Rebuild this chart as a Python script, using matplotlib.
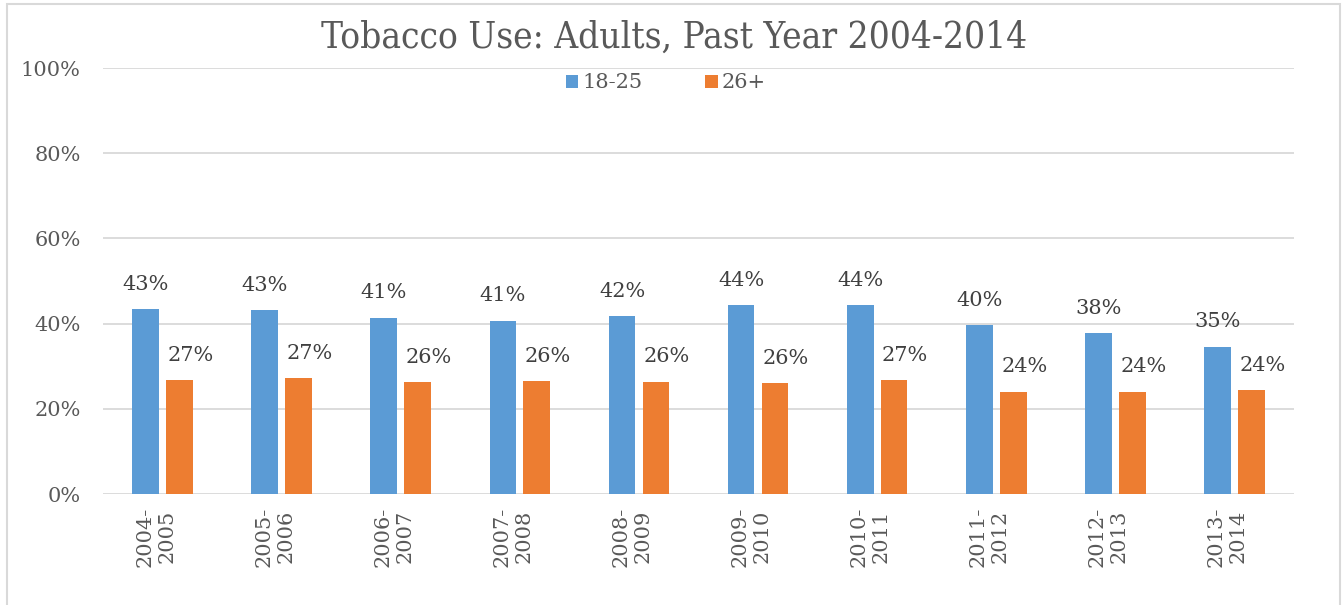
import matplotlib
matplotlib.use("Agg")
import matplotlib.pyplot as plt
import matplotlib.transforms as mtransforms
from matplotlib.patches import Rectangle
import numpy as np

periods = ["2004-\n2005", "2005-\n2006", "2006-\n2007", "2007-\n2008", "2008-\n2009",
           "2009-\n2010", "2010-\n2011", "2011-\n2012", "2012-\n2013", "2013-\n2014"]
age_18_25 = [43.4, 43.1, 41.4, 40.7, 41.7, 44.3, 44.3, 39.6, 37.8, 34.6]
age_26_plus = [26.8, 27.2, 26.3, 26.5, 26.4, 26.0, 26.7, 24.0, 24.0, 24.4]
series_names = ["18-25", "26+"]
yticks = [0, 20, 40, 60, 80, 100]

BLUE = "#5B9BD5"
ORANGE = "#ED7D31"
TEXT = "#595959"
LABEL = "#404040"
GRID = "#D9D9D9"
SERIF = "DejaVu Serif"
FS = 15

fig = plt.figure(figsize=(13.44, 6.05), dpi=100)
ax = fig.add_axes([103 / 1344, 1 - 494 / 605, 1191 / 1344, 426 / 605])

x = np.arange(len(periods))
w = 0.224
off = 0.142
b1 = ax.bar(x - off, age_18_25, w, color=BLUE, label=series_names[0], zorder=3)
b2 = ax.bar(x + off, age_26_plus, w, color=ORANGE, label=series_names[1], zorder=3)

for rect, v in zip(b1, age_18_25):
    ax.annotate(f"{round(v):d}%", (rect.get_x() + rect.get_width() / 2, v),
                xytext=(0, 11), textcoords="offset points", ha="center", va="bottom",
                fontsize=FS, family=SERIF, color=LABEL)
for rect, v in zip(b2, age_26_plus):
    ax.annotate(f"{round(v):d}%", (rect.get_x() + rect.get_width() / 2, v),
                xytext=(8, 11), textcoords="offset points", ha="center", va="bottom",
                fontsize=FS, family=SERIF, color=LABEL)

ax.set_xlim(-0.5, len(periods) - 0.5)
ax.set_ylim(0, 100)
ax.set_yticks(yticks)
ax.set_yticklabels([f"{t}%" for t in yticks], family=SERIF, fontsize=FS, color=TEXT)
ax.set_xticks(x)
ax.set_xticklabels(periods, rotation=90, family=SERIF, fontsize=FS, color=TEXT,
                   ha="center", va="top", linespacing=1.2)
ax.tick_params(axis="y", length=0, pad=16)
ax.tick_params(axis="x", length=0, pad=9)
shift = mtransforms.ScaledTranslation(-5 / 72, 0, fig.dpi_scale_trans)
for lbl in ax.get_xticklabels():
    lbl.set_transform(lbl.get_transform() + shift)
ax.grid(axis="y", color=GRID, linewidth=1.3, zorder=0)
for s in ax.spines.values():
    s.set_visible(False)

fig.text(674 / 1344, 1 - 38 / 605, "Tobacco Use: Adults, Past Year 2004-2014",
         ha="center", va="center", fontsize=26.5, family=SERIF, color=TEXT,
         fontstretch="condensed")

leg = fig.legend(handles=[b1, b2], labels=series_names, loc="center",
                 bbox_to_anchor=(666 / 1344, 1 - 83 / 605), ncol=2, frameon=False,
                 prop={"family": SERIF, "size": FS}, handlelength=0.6, handleheight=0.6,
                 handletextpad=0.2, columnspacing=3.0, labelcolor=TEXT,
                 borderpad=0, borderaxespad=0)

fig.patches.append(Rectangle((7 / 1344, -0.05), 1333 / 1344, 1.05 - 4 / 605,
                             transform=fig.transFigure, fill=False,
                             edgecolor=GRID, linewidth=1.5))

fig.savefig("out.png", dpi=100)
